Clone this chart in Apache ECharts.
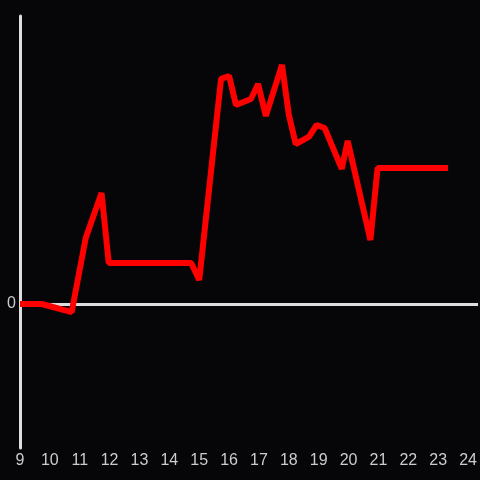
<!DOCTYPE html>
<html>
<head>
<meta charset="utf-8">
<script src="https://cdn.jsdelivr.net/npm/echarts@6/dist/echarts.min.js"></script>
<style>
html,body{margin:0;padding:0;background:#060508;}
#c{width:480px;height:480px;}
</style>
</head>
<body>
<div id="c"></div>
<script>
var times = [9, 9.73, 10.73, 11.2, 11.73, 11.97, 14.73, 15, 15.73, 16, 16.23, 16.73, 16.97, 17.23, 17.77, 18, 18.23, 18.67, 18.93, 19.2, 19.77, 19.97, 20.73, 20.97, 23.33];
var values = [0, 0, -0.56, 4.58, 7.71, 2.85, 2.85, 1.67, 15.63, 15.83, 13.82, 14.24, 15.28, 13.06, 16.6, 13.13, 11.11, 11.6, 12.43, 12.22, 9.38, 11.32, 4.44, 9.44, 9.44];
var xTicks = [9,10,11,12,13,14,15,16,17,18,19,20,21,22,23,24];

var data = times.map(function(t, i){ return [t, values[i]]; });
var chart = echarts.init(document.getElementById('c'));
chart.setOption({
  backgroundColor: '#060508',
  animation: false,
  grid: {left: 20, right: 0, top: 16, bottom: 32},
  xAxis: {
    type: 'value', min: 9, max: 24 + 1/3, interval: 1,
    axisLine: {show: false}, axisTick: {show: false}, splitLine: {show: false},
    axisLabel: {color: '#cccccc', fontSize: 16, fontFamily: 'Liberation Sans', margin: 5, showMaxLabel: false,
      formatter: function(v){ return xTicks.indexOf(v) >= 0 ? String(v) : ''; }}
  },
  yAxis: {
    type: 'value', min: -10, max: 20, interval: 10,
    axisLine: {show: true, lineStyle: {color: '#dddddd', width: 3}},
    axisTick: {show: false},
    splitLine: {show: true, lineStyle: {color: ['rgba(0,0,0,0)', '#dddddd', 'rgba(0,0,0,0)', 'rgba(0,0,0,0)'], width: 3}},
    axisLabel: {color: '#cccccc', fontSize: 16, fontFamily: 'Liberation Sans', margin: 4,
      formatter: function(v){ return v === 0 ? '0' : ''; }}
  },
  series: [{
    type: 'line', data: data, symbol: 'none',
    lineStyle: {color: '#ff0000', width: 6}
  }]
});
</script>
</body>
</html>
